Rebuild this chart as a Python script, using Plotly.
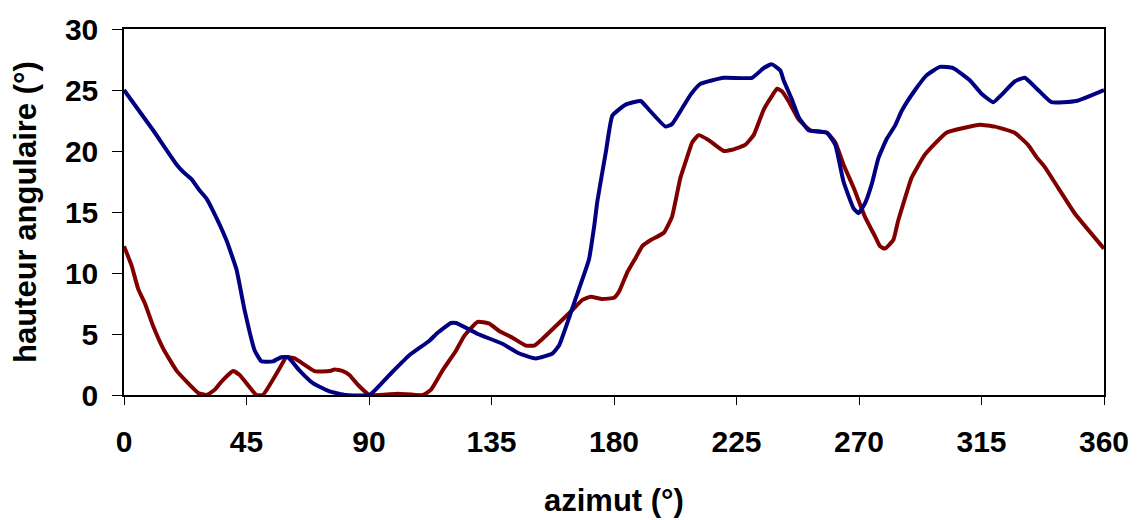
import plotly.graph_objects as go

# Blue series (azimuth in degrees, angular height in degrees)
blue_azimut = [0, 10.7, 19.3, 21.7, 24.8, 27.3, 30.3, 32.7, 37.6, 41.3, 44.4, 48.0, 50.5, 54.7,
               57.8, 60.2, 64.5, 69.4, 75.5, 81.6, 90.2, 97.5, 104.8, 112.2, 115.2, 120.1, 122.0,
               130.0, 139.0, 145.2, 151.3, 157.4, 159.8, 165.9, 170.8, 172.7, 173.9, 177.0, 179.4,
               184.3, 189.8, 192.8, 198.9, 201.3, 208.1, 211.7, 220.3, 230.7, 235.0, 238.0, 241.1,
               242.3, 245.4, 247.8, 251.5, 258.2, 261.3, 264.3, 268.0, 269.8, 272.2, 274.7, 277.1,
               280.2, 283.3, 285.7, 290.6, 294.8, 299.7, 304.6, 310.7, 315.0, 319.3, 322.3, 327.2,
               330.9, 335.8, 340.7, 349.8, 360.0]
blue_hauteur = [25.0, 21.7, 18.9, 18.3, 17.7, 16.9, 16.1, 15.1, 12.7, 10.3, 6.85, 3.65, 2.76, 2.76,
                3.1, 3.1, 2.0, 0.97, 0.3, 0.0, 0.0, 1.64, 3.25, 4.45, 5.1, 5.9, 5.9,
                5.0, 4.2, 3.4, 3.0, 3.4, 4.05, 7.9, 11.1, 13.8, 15.9, 19.9, 22.9,
                23.8, 24.1, 23.4, 22.0, 22.2, 24.6, 25.5, 26.0, 26.0, 26.8, 27.1, 26.6,
                25.8, 24.2, 22.8, 21.7, 21.5, 20.5, 17.5, 15.3, 14.9, 15.7, 17.3, 19.4,
                21.0, 22.1, 23.3, 25.0, 26.2, 26.9, 26.8, 25.8, 24.7, 24.0, 24.6, 25.7,
                26.0, 25.0, 24.0, 24.1, 25.0]

# Red series
red_azimut = [0, 2.8, 5.2, 7.7, 10.7, 14.4, 19.3, 23.0, 27.3, 30.3, 33.4, 35.8, 40.1, 42.5, 48.6,
              51.0, 57.8, 59.6, 62.7, 70.0, 75.5, 77.3, 80.4, 82.8, 85.9, 90.2, 100.6, 109.8,
              112.8, 117.1, 122.0, 125.0, 129.9, 134.2, 137.8, 142.7, 147.6, 150.7, 153.7, 159.8,
              165.3, 168.4, 171.4, 175.7, 180.0, 181.8, 184.9, 188.0, 190.4, 193.5, 198.3, 201.3,
              202.6, 204.4, 206.3, 208.7, 211.1, 214.7, 220.3, 223.3, 228.2, 231.3, 235.0, 238.0,
              239.9, 241.7, 244.1, 247.8, 252.1, 258.2, 261.3, 264.3, 268.0, 272.2, 275.9, 277.7,
              279.5, 282.6, 284.4, 288.1, 289.3, 294.2, 302.1, 308.8, 314.4, 319.9, 327.2, 332.1,
              335.2, 338.2, 343.1, 349.2, 360.0]
red_hauteur = [12.2, 10.6, 8.7, 7.5, 5.65, 3.8, 2.0, 1.1, 0.17, 0.0, 0.44, 1.1, 1.96, 1.64, 0.0,
               0.0, 2.44, 3.1, 3.0, 1.96, 1.96, 2.1, 1.96, 1.64, 0.84, 0.0, 0.1, 0.0,
               0.44, 2.04, 3.65, 4.85, 6.0, 5.85, 5.25, 4.7, 4.05, 4.05, 4.6, 5.9,
               7.1, 7.8, 8.05, 7.87, 7.97, 8.45, 10.06, 11.26, 12.2, 12.7, 13.3, 14.6,
               15.9, 17.8, 19.1, 20.7, 21.3, 20.9, 20.0, 20.1, 20.5, 21.3, 23.4, 24.5,
               25.1, 24.9, 24.1, 22.6, 21.7, 21.5, 20.7, 18.9, 17.0, 14.6, 13.0, 12.2,
               12.0, 12.7, 14.3, 17.0, 17.8, 19.7, 21.5, 21.9, 22.15, 22.0, 21.5, 20.5,
               19.5, 18.7, 17.0, 14.9, 12.0]

x_ticks = [0, 45, 90, 135, 180, 225, 270, 315, 360]
y_ticks = [0, 5, 10, 15, 20, 25, 30]

FONT = "Liberation Sans, Arial, sans-serif"

fig = go.Figure()
fig.add_trace(go.Scatter(x=red_azimut, y=red_hauteur, mode="lines",
                         line=dict(color="#800000", width=4, shape="spline", smoothing=0.4),
                         showlegend=False))
fig.add_trace(go.Scatter(x=blue_azimut, y=blue_hauteur, mode="lines",
                         line=dict(color="#000080", width=4, shape="spline", smoothing=0.4),
                         showlegend=False))

fig.update_layout(
    width=1141, height=520,
    margin=dict(l=124, r=35, t=21, b=124.5),
    paper_bgcolor="white", plot_bgcolor="white",
    font=dict(family=FONT, color="black"),
)
fig.update_xaxes(
    range=[0, 360], tickvals=x_ticks, ticktext=[str(v) for v in x_ticks],
    showgrid=False, zeroline=False, showline=True, linecolor="black", linewidth=1.5,
    mirror=True, ticks="outside", ticklen=8, tickcolor="black", tickwidth=1,
    tickfont=dict(family=FONT, size=30, color="black", weight="bold"),
    ticklabelstandoff=11,
)
fig.update_yaxes(
    range=[0, 30], tickvals=y_ticks, ticktext=[str(v) for v in y_ticks],
    showgrid=False, zeroline=False, showline=True, linecolor="black", linewidth=1.5,
    mirror=True, ticks="outside", ticklen=10, tickcolor="black", tickwidth=1,
    tickfont=dict(family=FONT, size=30, color="black", weight="bold"),
    ticklabelstandoff=8,
)
fig.add_annotation(text="azimut (°)", xref="paper", yref="paper", x=0.5, y=0,
                   yshift=-105, xanchor="center", yanchor="middle", showarrow=False,
                   font=dict(family=FONT, size=31, color="black", weight="bold"))
fig.add_annotation(text="hauteur angulaire (°)", xref="paper", yref="paper", x=0, y=0.5,
                   xshift=-99, xanchor="center", yanchor="middle", textangle=-90,
                   showarrow=False,
                   font=dict(family=FONT, size=31, color="black", weight="bold"))

fig.write_html("out.html")
